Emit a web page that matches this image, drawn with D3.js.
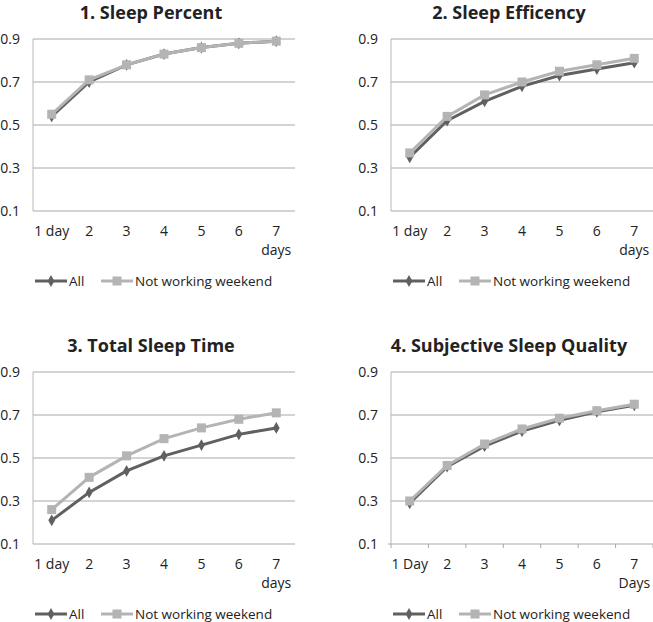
<!DOCTYPE html>
<html><head><meta charset="utf-8">
<script src="https://cdn.jsdelivr.net/npm/d3@7"></script>
<style>body{margin:0;background:#fff;} text{font-family:"Open Sans","Noto Sans",sans-serif;fill:#222;}</style>
</head><body><svg id="c" width="653" height="622"></svg>
<script>
const titles = ["1. Sleep Percent","2. Sleep Efficency","3. Total Sleep Time","4. Subjective Sleep Quality"];
const days = ["1","2","3","4","5","6","7"];
const firstLabels = ["1 day","1 day","1 day","1 Day"];
const lastLabels = ["days","days","days","Days"];
const yTicks = [0.1,0.3,0.5,0.7,0.9];
const seriesNames = ["All","Not working weekend"];
const allValues = [
  [0.54,0.70,0.78,0.83,0.86,0.88,0.89],
  [0.35,0.52,0.61,0.68,0.73,0.76,0.79],
  [0.21,0.34,0.44,0.51,0.56,0.61,0.64],
  [0.29,0.46,0.555,0.625,0.675,0.715,0.745]
];
const nwwValues = [
  [0.55,0.71,0.78,0.83,0.86,0.88,0.89],
  [0.37,0.54,0.64,0.70,0.75,0.78,0.81],
  [0.26,0.41,0.51,0.59,0.64,0.68,0.71],
  [0.30,0.465,0.565,0.635,0.685,0.72,0.75]
];

const svg = d3.select("#c");
const origins = [[0,0],[358,0],[0,333],[358,333]];
const colAll = "#606060", colN = "#b4b4b4", gridCol = "#a8a8a8";
const L=33, R=295, T=39, B=211;

titles.forEach((t,i)=>{
  const g = svg.append("g").attr("transform",`translate(${origins[i][0]},${origins[i][1]})`);
  const x = d3.scaleBand().domain(days).range([L,R]);
  const y = d3.scaleLinear().domain([0.1,0.9]).range([B,T]);
  g.append("text").attr("x",151).attr("y",19).attr("text-anchor","middle")
    .style("font-size","18px").style("font-weight","bold").text(t);
  g.selectAll(".grid").data(yTicks.slice(1)).join("line")
    .attr("x1",L).attr("x2",R).attr("y1",d=>y(d)).attr("y2",d=>y(d))
    .attr("stroke",gridCol).attr("stroke-width",1);
  g.append("line").attr("x1",L).attr("x2",R).attr("y1",B).attr("y2",B).attr("stroke",gridCol);
  g.append("line").attr("x1",L).attr("x2",L).attr("y1",T).attr("y2",B).attr("stroke","#b8b8b8");
  if(i===3){
    g.selectAll(".tk").data(d3.range(8)).join("line")
      .attr("x1",d=>L+d*x.bandwidth()).attr("x2",d=>L+d*x.bandwidth())
      .attr("y1",B).attr("y2",B+4).attr("stroke",gridCol);
    g.append("line").attr("x1",L-3).attr("x2",L).attr("y1",B).attr("y2",B).attr("stroke",gridCol);
  }
  g.selectAll(".yl").data(yTicks).join("text")
    .attr("x",20).attr("y",d=>y(d)+5).attr("text-anchor","end")
    .style("font-size","14px").text(d=>d3.format(".1f")(d));
  g.selectAll(".xl").data(days).join("text")
    .attr("x",d=>x(d)+x.bandwidth()/2).attr("y",236).attr("text-anchor","middle")
    .style("font-size","14px").text((d,j)=>j===0?firstLabels[i]:d);
  g.append("text").attr("x",x("7")+x.bandwidth()/2).attr("y",255).attr("text-anchor","middle")
    .style("font-size","14px").text(lastLabels[i]);
  const line = d3.line().x((d,j)=>x(days[j])+x.bandwidth()/2).y(d=>y(d));
  g.append("path").datum(allValues[i]).attr("d",line).attr("fill","none").attr("stroke",colAll).attr("stroke-width",3);
  const dia = d3.symbol().type(d3.symbolDiamond).size(40);
  g.selectAll(".da").data(allValues[i]).join("path")
    .attr("transform",(d,j)=>`translate(${x(days[j])+x.bandwidth()/2},${y(d)})`)
    .attr("d",dia).attr("fill",colAll);
  g.append("path").datum(nwwValues[i]).attr("d",line).attr("fill","none").attr("stroke",colN).attr("stroke-width",3);
  g.selectAll(".sq").data(nwwValues[i]).join("rect")
    .attr("x",(d,j)=>x(days[j])+x.bandwidth()/2-4.5).attr("y",d=>y(d)-4.5)
    .attr("width",9).attr("height",9).attr("fill",colN);
  const ly = 281;
  g.append("line").attr("x1",35).attr("x2",67).attr("y1",ly).attr("y2",ly).attr("stroke",colAll).attr("stroke-width",3);
  g.append("path").attr("transform",`translate(51,${ly})`).attr("d",dia).attr("fill",colAll);
  g.append("text").attr("x",69).attr("y",ly+5).style("font-size","13.5px").text(seriesNames[0]);
  g.append("line").attr("x1",101).attr("x2",133).attr("y1",ly).attr("y2",ly).attr("stroke",colN).attr("stroke-width",3);
  g.append("rect").attr("x",112.5).attr("y",ly-4.5).attr("width",9).attr("height",9).attr("fill",colN);
  g.append("text").attr("x",135).attr("y",ly+5).style("font-size","13.5px").text(seriesNames[1]);
});
</script></body></html>
